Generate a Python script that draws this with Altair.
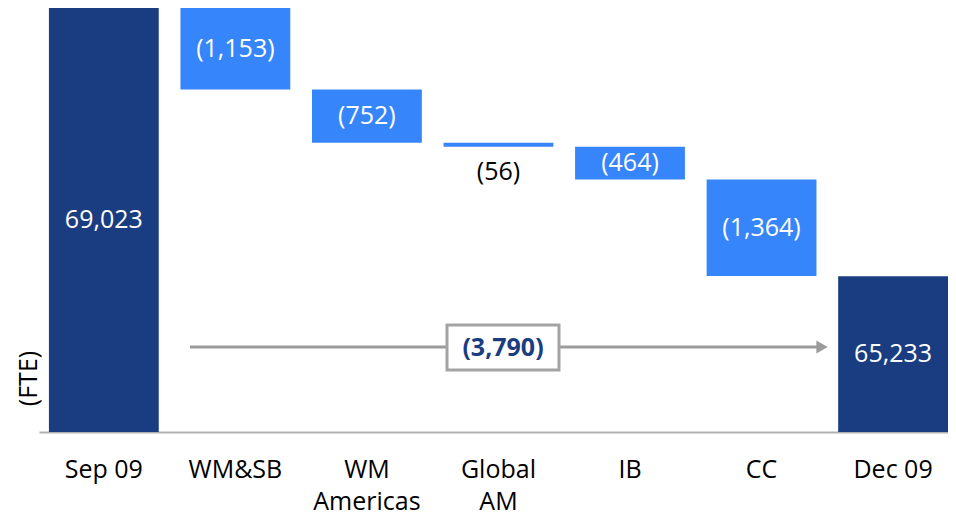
import altair as alt
import pandas as pd

categories = ["Sep 09", "WM&SB", "WM\nAmericas", "Global\nAM", "IB", "CC", "Dec 09"]
kinds = ["total", "delta", "delta", "delta", "delta", "delta", "total"]
values = [69023, -1153, -752, -56, -464, -1364, 65233]
total_change = -3790
Y_MIN = 63030
Y_MAX = 69023

DARK = "#1a3d82"
LIGHT = "#3785fb"
GRAY = "#a3a3a3"
FONT = "Open Sans"

rows = []
running = None
for c, k, v in zip(categories, kinds, values):
    if k == "total":
        top, low = v, Y_MIN
        running = v
        label = f"{v:,}"
    else:
        top = running
        low = running + v
        running = low
        label = f"({abs(v):,})"
    inside = (top - low) > 300
    rows.append({"cat": c, "kind": k, "top": top, "low": low,
                 "mid": (top + low) / 2, "label": label, "inside": inside})
df = pd.DataFrame(rows)

W, H = 909, 424

x = alt.X("cat:N", sort=categories,
          scale=alt.Scale(paddingInner=0.165, paddingOuter=0.0377, align=1),
          axis=alt.Axis(title=None, labelAngle=0, ticks=False, tickSize=0,
                        labelPadding=25, labelFontSize=25, labelColor="#000",
                        labelFont=FONT, labelLineHeight=32,
                        labelExpr="split(datum.label, '\\n')",
                        domainColor="#b0b0b0", domainWidth=2))
y_scale = alt.Scale(domain=[Y_MIN, Y_MAX], zero=False, nice=False)

base = alt.Chart(df)

bars = base.mark_bar().encode(
    x=x,
    y=alt.Y("top:Q", scale=y_scale,
            axis=alt.Axis(title="(FTE)", labels=False, ticks=False, domain=False,
                          grid=False, titleFontSize=25, titleFont=FONT,
                          titleFontWeight="normal", titleColor="#000",
                          titleAngle=-90, titleX=-11, titleY=370,
                          titleAlign="center", titleBaseline="middle")),
    y2="low:Q",
    color=alt.Color("kind:N", scale=alt.Scale(domain=["total", "delta"],
                                              range=[DARK, LIGHT]), legend=None),
)

inside_text = base.transform_filter("datum.inside").mark_text(
    font=FONT, fontSize=25, color="white", baseline="middle").encode(
    x=alt.X("cat:N", sort=categories), y=alt.Y("mid:Q"), text="label:N")

outside_text = base.transform_filter("!datum.inside").mark_text(
    font=FONT, fontSize=25, color="black", baseline="middle", dy=25).encode(
    x=alt.X("cat:N", sort=categories), y=alt.Y("low:Q"), text="label:N")

arrow_df = pd.DataFrame({"v": [total_change]})
arrow_line = alt.Chart(arrow_df).mark_rule(color="#9b9b9b", strokeWidth=3).encode(
    x=alt.value(151), x2=alt.value(781), y=alt.value(339))
arrow_head = alt.Chart(arrow_df).mark_point(
    shape="triangle-right", filled=True, color="#9b9b9b", size=170, opacity=1).encode(
    x=alt.value(783), y=alt.value(339))
box = alt.Chart(arrow_df).mark_rect(fill="white", stroke=GRAY, strokeWidth=3).encode(
    x=alt.value(408), x2=alt.value(520), y=alt.value(317), y2=alt.value(362))
box_text = alt.Chart(arrow_df).transform_calculate(
    t="'(' + format(abs(datum.v), ',') + ')'").mark_text(
    font=FONT, fontSize=25, fontWeight="bold", color=DARK, baseline="middle").encode(
    x=alt.value(464), y=alt.value(340), text="t:N")

chart = alt.layer(bars, inside_text, outside_text, arrow_line, arrow_head, box, box_text).properties(
    width=W, height=H,
    autosize=alt.AutoSizeParams(type="none"),
    padding={"left": 31, "top": 0, "right": 0, "bottom": 83},
).configure(font=FONT).configure_view(stroke=None)

chart.save("out.html", embed_options={"renderer": "svg", "actions": False})
